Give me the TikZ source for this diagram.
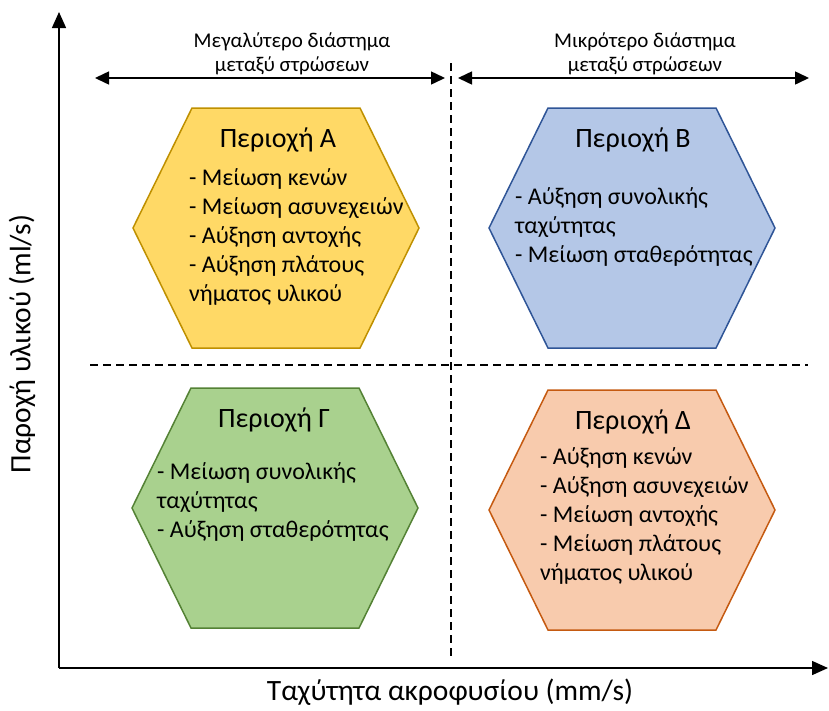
\documentclass[tikz,border=0pt]{standalone}
\usepackage{fontspec}
\setmainfont{Carlito}
\usetikzlibrary{arrows.meta, positioning}

\definecolor{goldfill}{HTML}{FFD966}
\definecolor{golddraw}{HTML}{BF9000}
\definecolor{bluefill}{HTML}{B4C7E7}
\definecolor{bluedraw}{HTML}{2F5597}
\definecolor{greenfill}{HTML}{A9D18E}
\definecolor{greendraw}{HTML}{548235}
\definecolor{orangefill}{HTML}{F8CBAD}
\definecolor{orangedraw}{HTML}{C55A11}
\newcommand{\hexpath}{++(-143,0) -- ++(59,-120) -- ++(168,0) -- ++(59,120) -- ++(-59,120) -- ++(-168,0) -- cycle}

\begin{document}
\begin{tikzpicture}[
            x=1pt, y=-1pt,
            hexagon/.style={line width=1.5pt},
            title/.style={font=\fontsize{28}{33}\selectfont, inner sep=0pt},
            body/.style={font=\fontsize{24}{29}\selectfont, align=left, anchor=north west, inner sep=0pt},
            gap/.style={font=\fontsize{21}{24}\selectfont, align=center, inner sep=0pt},
            axislabel/.style={font=\fontsize{29.5}{34}\selectfont, inner sep=0pt},
            axis/.style={-{Triangle[length=16pt, width=14pt]}, line width=1.5pt},
            span/.style={{Triangle[length=14pt, width=13pt]}-{Triangle[length=14pt, width=13pt]}, line width=1.5pt},
            divider/.style={dash pattern=on 8pt off 5pt, line width=1.5pt}
        ]
            \useasboundingbox (0,0) rectangle (829,710);

            % axes
            \coordinate (O) at (59,668);
            \coordinate (ytop) at (59,12);
            \coordinate (xend) at (828,668);
            \draw[axis] (O) -- (ytop);
            \draw[axis] (O) -- (xend);
            \node[axislabel] (xlabel) at (450,692) {Ταχύτητα ακροφυσίου (mm/s)};
            \node[axislabel, rotate=90] (ylabel) at (22,344) {Παροχή υλικού (ml/s)};

            % dividers
            \coordinate (vtop) at (451,63);
            \coordinate (vbot) at (451,656);
            \coordinate (hleft) at (90,365);
            \coordinate (hright) at (808,365);
            \draw[divider] (vtop) -- (vbot);
            \draw[divider] (hleft) -- (hright);

            % layer time arrows
            \coordinate (L1) at (95,78);
            \coordinate (L2) at (445,78);
            \coordinate (R1) at (458,78);
            \coordinate (R2) at (809,78);
            \draw[span] (L1) -- (L2);
            \draw[span] (R1) -- (R2);
            \node[gap] (gapL) at (292,54) {Μεγαλύτερο διάστημα\\μεταξύ στρώσεων};
            \node[gap] (gapR) at (645,54) {Μικρότερο διάστημα\\μεταξύ στρώσεων};

            % regions
            \draw[hexagon, fill=goldfill, draw=golddraw] (276,228) \hexpath;
            \node[title] (tA) at (278,140) {Περιοχή Α};
            \node[body] (bA) at (189,168) {- Μείωση κενών\\- Μείωση ασυνεχειών\\- Αύξηση αντοχής\\- Αύξηση πλάτους\\νήματος υλικού};

            \draw[hexagon, fill=bluefill, draw=bluedraw] (632,228) \hexpath;
            \node[title] (tB) at (633,140) {Περιοχή Β};
            \node[body] (bB) at (515,187) {- Αύξηση συνολικής\\ταχύτητας\\- Μείωση σταθερότητας};

            \draw[hexagon, fill=greenfill, draw=greendraw] (275,508) \hexpath;
            \node[title] (tC) at (274,420) {Περιοχή Γ};
            \node[body] (bC) at (157,462) {- Μείωση συνολικής\\ταχύτητας\\- Αύξηση σταθερότητας};

            \draw[hexagon, fill=orangefill, draw=orangedraw] (632,510) \hexpath;
            \node[title] (tD) at (633,422) {Περιοχή Δ};
            \node[body] (bD) at (540,447) {- Αύξηση κενών\\- Αύξηση ασυνεχειών\\- Μείωση αντοχής\\- Μείωση πλάτους\\νήματος υλικού};

        \end{tikzpicture}
\end{document}
